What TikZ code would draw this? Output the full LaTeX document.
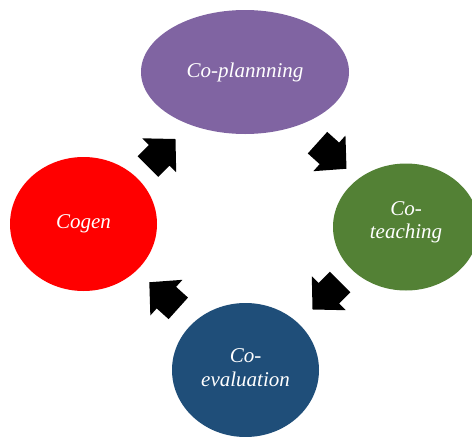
\documentclass[tikz,border=0pt]{standalone}
\usepackage{fontspec}
\setmainfont{Liberation Serif}
\usetikzlibrary{shapes.geometric}
\definecolor{cplan}{HTML}{8064A2}
\definecolor{cteach}{HTML}{538135}
\definecolor{ceval}{HTML}{1F4E79}
\definecolor{ccogen}{HTML}{FF0000}
\tikzset{
  stage/.style={ellipse, inner sep=0pt},
  stagetext/.style={inner sep=0pt, text=white, align=center,
    font=\fontsize{21}{23.5}\selectfont\itshape},
  cyclearrow/.pic={\fill[black] (-19.5pt,-14.5pt) -- (-3.5pt,-14.5pt) -- (-3.5pt,-24pt)
      -- (19.5pt,0pt) -- (-3.5pt,24pt) -- (-3.5pt,14.5pt) -- (-19.5pt,14.5pt) -- cycle;}
}
\begin{document}
\begin{tikzpicture}[x=1pt,y=-1pt]
\fill[white] (0,0) rectangle (472,437);
\useasboundingbox (0,0) rectangle (472,437);
\node[stage, fill=cplan, minimum width=208pt, minimum height=124pt] (plan) at (245,72) {};
\node[stage, fill=cteach, minimum width=146pt, minimum height=127pt] (teach) at (406,227) {};
\node[stage, fill=ceval, minimum width=147pt, minimum height=134pt] (eval) at (245.5,370) {};
\node[stage, fill=ccogen, minimum width=147pt, minimum height=134pt] (cogen) at (83.5,224) {};
\node[stagetext] (plantext) at ([yshift=0pt]plan.center) {Co-plannning};
\node[stagetext] (teachtext) at ([yshift=4.5pt]teach.center) {Co-\\teaching};
\node[stagetext] (evaltext) at ([yshift=2.5pt]eval.center) {Co-\\evaluation};
\node[stagetext] (cogentext) at (cogen.center) {Cogen};
\coordinate (a1) at (161.7,152.8);
\coordinate (a2) at (332,155.7);
\coordinate (a3) at (326.3,295.7);
\coordinate (a4) at (163.8,295.3);
\path (a1) pic[rotate=45] {cyclearrow};
\path (a2) pic[rotate=-42] {cyclearrow};
\path (a3) pic[rotate=-135] {cyclearrow};
\path (a4) pic[rotate=138] {cyclearrow};
\end{tikzpicture}
\end{document}
